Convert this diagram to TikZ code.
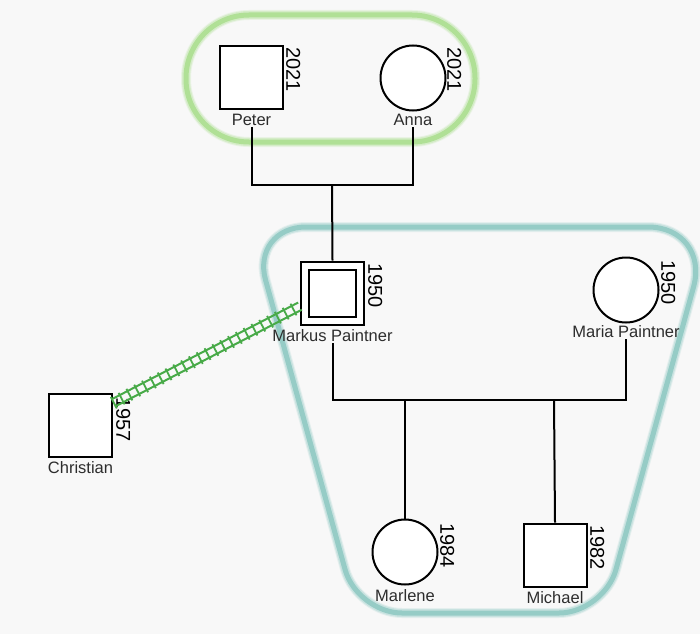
\documentclass[tikz,border=0pt]{standalone}
\usepackage{fontspec}
\setmainfont{Liberation Sans}
\usetikzlibrary{calc}
\definecolor{bgc}{RGB}{248,248,248}
\definecolor{railgreen}{RGB}{72,170,72}
\definecolor{grpgreen}{RGB}{176,224,150}
\definecolor{grpteal}{RGB}{150,204,198}
\definecolor{namegray}{RGB}{45,45,45}
\begin{document}
\begin{tikzpicture}[x=1pt,y=-1pt,
  person/.style={draw=black, line width=2pt, fill=white, inner sep=0pt},
  male/.style={person, rectangle, minimum size=63pt},
  female/.style={person, circle, minimum size=65pt},
  pname/.style={font=\fontsize{16.5}{16.5}\selectfont, inner sep=1pt, text=namegray},
  pyear/.style={font=\fontsize{20}{20}\selectfont, rotate=-90, anchor=south west, inner sep=1pt},
  link/.style={line width=2pt, black},
  railline/.style={railgreen, line width=2pt},
  railties/.style={railgreen, line width=13pt, dash pattern=on 1.8pt off 7pt},
  grpline/.style={line width=5pt, line join=round},
]
\fill[bgc] (0,0) rectangle (700,634);
\useasboundingbox (0,0) rectangle (700,634);

% group outlines
\foreach \w/\o in {10/0.2, 8/0.35, 5/1} {
  \draw[grpgreen, line width=\w pt, opacity=\o, rounded corners=63pt] (186,15) rectangle (475,142);
  \draw[grpteal, line width=\w pt, opacity=\o, line join=round]
    (480,227) [rounded corners=62pt] -- (710,227) [rounded corners=45pt] -- (604,613)
    -- (357,613) [rounded corners=55pt] -- (251,227) -- cycle;
}

% persons
\node[male] (peter) at (251.5,77.5) {};
\node[pname] (peterl) at (251.5,120) {Peter};
\node[pyear] (petery) at (285,46) {2021};

\node[female] (anna) at (413,78) {};
\node[pname] (annal) at (413,120) {Anna};
\node[pyear] (annay) at (446,46) {2021};

\node[male] (markus) at (332.5,293) {};
\node[person, rectangle, minimum size=47pt, line width=2pt] (markusin) at (332.5,293) {};
\node[pname] (markusl) at (332.5,336) {Markus Paintner};
\node[pyear] (markusy) at (367,262) {1950};

\node[female] (maria) at (626,290) {};
\node[pname] (marial) at (626,332) {Maria Paintner};
\node[pyear] (mariay) at (660,259) {1950};

\node[male] (christian) at (80.5,425) {};
\node[pname] (christianl) at (80.5,468) {Christian};
\node[pyear] (christiany) at (115,396) {1957};

\node[female] (marlene) at (405,552) {};
\node[pname] (marlenel) at (405,596) {Marlene};
\node[pyear] (marleney) at (439,522) {1984};

\node[male] (michael) at (555,555) {};
\node[pname] (michaell) at (555,598) {Michael};
\node[pyear] (michaely) at (589,524) {1982};

% connectors
\coordinate (pj) at (332,185);
\draw[link] (peterl.south) |- (pj) -| (annal.south);
\draw[link] (pj) -- (markus.north);

\coordinate (mj) at (480,400);
\draw[link] (markusl.south) |- (mj) -| (marial.south);
\coordinate (c1) at (405,400);
\coordinate (c2) at (554,400);
\draw[link] (c1) -- (marlene.north);
\draw[link] (c2) -- (michael.north);

% rail (relationship)
\coordinate (ra) at (christian.34);
\coordinate (rb) at (markus.-158);
\draw[railties] (ra) -- (rb);
\draw[railline] ($(ra)!4pt!90:(rb)$) -- ($(rb)!4pt!-90:(ra)$);
\draw[railline] ($(ra)!4pt!-90:(rb)$) -- ($(rb)!4pt!90:(ra)$);
\end{tikzpicture}
\end{document}
